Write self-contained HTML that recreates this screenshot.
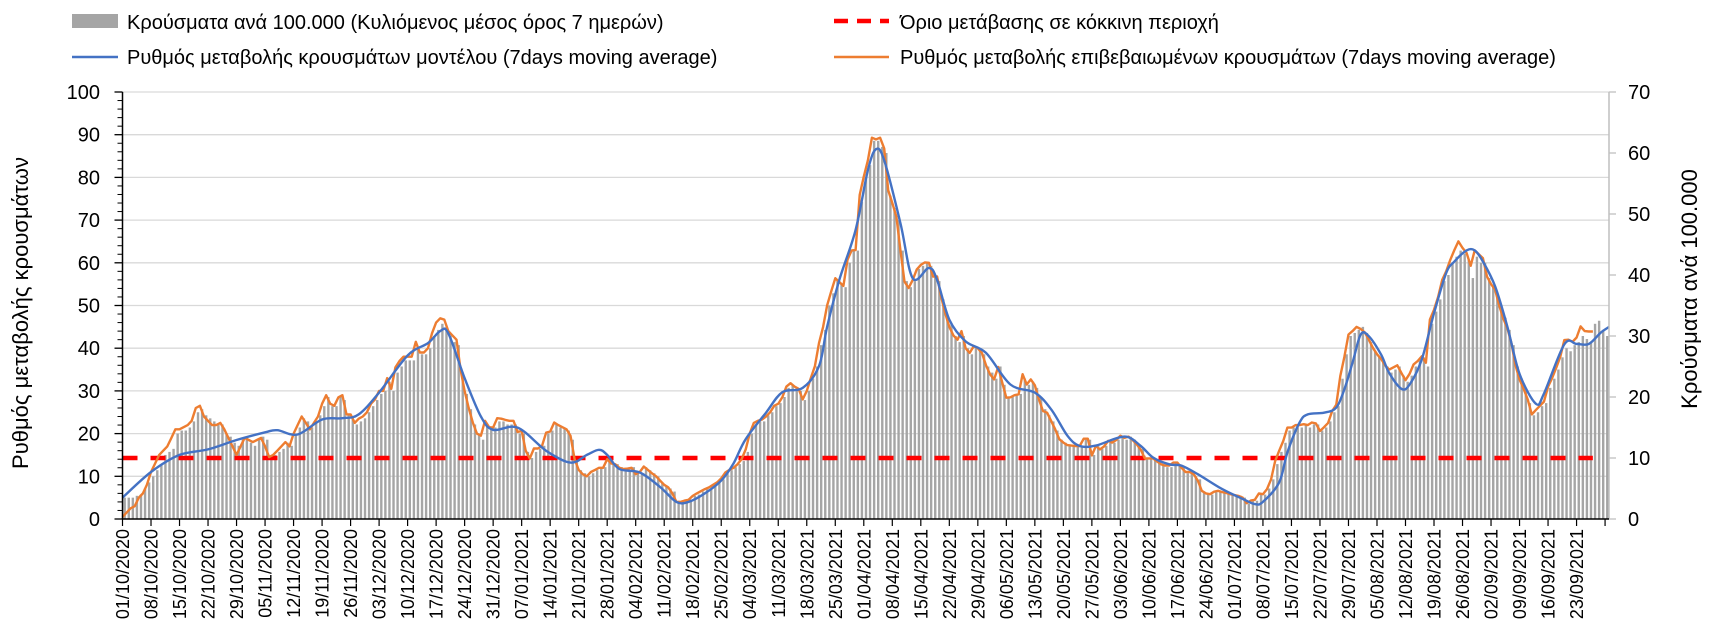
<!DOCTYPE html>
<html><head><meta charset="utf-8">
<style>
html,body{margin:0;padding:0;background:#fff;}
svg{display:block;font-family:"Liberation Sans","DejaVu Sans",sans-serif;}
</style></head>
<body>
<svg id="chart" width="1712" height="621" viewBox="0 0 1712 621">
  <rect x="0" y="0" width="1712" height="621" fill="#fff"/>
  <g>
    <g>
      <rect x="72" y="14" width="46" height="14" fill="#A5A5A5"/>
      <text x="127" y="29" font-size="20" fill="#000">Κρούσματα ανά 100.000 (Κυλιόμενος μέσος όρος 7 ημερών)</text>
    </g>
    <g>
      <line x1="834" y1="21" x2="889" y2="21" stroke="#FF0000" stroke-width="4.5" stroke-dasharray="14,9"/>
      <text x="900" y="29" font-size="20" fill="#000">Όριο μετάβασης σε κόκκινη περιοχή</text>
    </g>
    <g>
      <line x1="72" y1="57" x2="118" y2="57" stroke="#4472C4" stroke-width="2.5"/>
      <text x="127" y="64" font-size="20" fill="#000">Ρυθμός μεταβολής κρουσμάτων μοντέλου (7days moving average)</text>
    </g>
    <g>
      <line x1="834" y1="57" x2="889" y2="57" stroke="#ED7D31" stroke-width="2.5"/>
      <text x="900" y="64" font-size="20" fill="#000">Ρυθμός μεταβολής επιβεβαιωμένων κρουσμάτων (7days moving average)</text>
    </g>
  </g>
  <text transform="translate(28,313) rotate(-90)" text-anchor="middle" font-size="22" fill="#000">Ρυθμός μεταβολής κρουσμάτων</text>
  <text transform="translate(1697,289) rotate(-90)" text-anchor="middle" font-size="22" fill="#000">Κρούσματα ανά 100.000</text>
  <g id="grid"></g>
  <g id="bars"></g>
  <g id="thresh"></g>
  <g id="lines"></g>
  <g id="axes"></g>
</svg>
<script>
// ---- data ----
const startDate = [2020, 10, 1];
const leftTicks = [0,10,20,30,40,50,60,70,80,90,100];
const rightTicks = [0,10,20,30,40,50,60,70];
const thresholdRight = [10];
// bars: cases per 100k (right axis), daily from 01/10/2020
const casesPer100k = [
3.5,3.5,3.5,3.8,4,5,6,
7,8,9,10.5,11,11.5,14,
14.5,14.5,15,16,17.5,18,17,
16.5,16,15.5,15.5,14,13.5,12.5,
12,13,13.5,12.5,12,13,13.5,
13,10,10.5,11,11.5,12.5,12,
14,15,16.5,16,15,16,17,
18.5,20,18.5,18.5,20,19.5,17,
16.5,15.5,16,16.5,17.5,18.5,19.5,
20.5,21,22.5,21,24,25,26,
26,26,28,27,27,28,30,
31,32,31.5,30,29,28.5,24,
20.5,18,15.5,14,13,15.5,15,
15,16,16,15.5,15.5,15.5,14,
14,11,10,11,11.5,12,14,
14.5,15.5,15,15,14.5,13,10,
8,7.5,7,7.5,8,8.5,8.5,
9.5,9,9,8.5,8,8,8.5,
7.5,7.5,8.5,8,7.5,7,6,
5.5,5,4.5,3,3,3,3.2,
3.8,4,4.5,5,5,5.5,6,
6.5,7.5,8,8.5,9,9.5,11,
14,15.5,16,16,17,17.5,18.5,
19,20,21.5,22,21.5,21,19.5,
21,23,25,28.5,31,35,37,
39,38.5,38,42,44,44,52,
56,58,62,62,61,60,53,
51,49,44,39,38,39,41,
41.5,42,41.5,40,39,36,33,
32,30,29,30,28,27,28,
28,27,25,24,23,25,22,
20,20,20.5,20.5,23,22,22.5,
21.5,20,18,17,16,14.5,13,
12.5,12,12,12,12,13,13,
10.5,12,11.5,12,12.5,12.5,13,
13.5,13,13.5,13,12,11.5,10,
10,10,9.5,9,8.5,8.5,9,
9,8.5,7.5,7.5,7,6.5,4.5,
4.2,4,4.4,4.5,4.3,4.2,4,
4,3.8,3.5,2.5,3,3,4,
4,5,6.5,9,11,12.5,14.5,
15,15,15,15.5,15,15.5,15.5,
14.5,15,16,17.5,18.5,23,27,
30,30.5,31,31.5,30.5,29,27.5,
26.5,26,25,24,24.5,25,23.5,
22.5,23.5,25,26,26.5,25,32,
34,36,39,40,42,43,44,
43.5,42.5,39.5,43,42,42,39.5,
38,37,35,33,31,28.5,25,
23,21,19,17,17.5,18.5,19,
21.5,23,24.5,26.5,28,27.5,28.5,
29,30,29.5,29,32,32.5,31,
30];
// orange: confirmed cases rate (left axis), daily
const confirmedRate = [
0.5,1.5,2.5,3,5,6,8,
11,13,15,16,17,19,21,
21,21.5,22,23,26,26.5,24,
23,22,22,22.5,21,19,17,
15,17,19,18.5,18,18.5,19,
17,14.5,15,16,17,18,17,
20,22,24,22.5,21,22.5,24,
27,29,27,26.5,28.5,29,24.5,
24.5,22.5,23.5,24,25,27,28,
30,30,33,30.5,35.5,37,38,
38,38,41.5,39,39,40,43.5,
46,47,46.7,44,43,42,35,
30,26,22.6,20,19.5,23,21.5,
21.4,23.6,23.5,23.2,23,23,20.4,
20.6,16,14.2,16.5,16.5,17.1,20.2,
20.5,22.6,22,21.5,21,19.5,14,
11.5,10.5,10,11,11.5,12,12,
14,13,12.8,12,11.7,11.8,12,
10.5,11,12.3,11.5,10.7,10,9,
8,7.4,6,4,4,4.3,4.5,
5.4,6,6.5,7,7.4,8,8.6,
9.5,10.9,11.5,12,12.8,14,16.3,
20,22.5,23,23.3,24,25,26.5,
27,28.5,31,31.8,31,30.5,28,
30,33,35.8,41.2,45,50,53.3,
56.4,55.5,54.6,60.7,62.9,63,75.9,
80.2,84,89.3,88.9,89.3,86.8,77,
74,70.8,63,55.6,54.1,56,58.4,
59.5,60.1,60,56.8,56.8,52,48.2,
45,43,42,44,40,38.9,40.5,
40,38.9,36,33.9,32.7,35.6,31.9,
28.4,28.5,29,29.2,33.9,31.5,32.7,
31.3,28,25.3,24.9,23,21,18.7,
17.9,17.3,17.2,17.1,17.1,18.8,18.8,
14.9,17.1,16.3,17,18.3,17.9,18.5,
19.5,19,19.3,18.5,17.5,16.2,14.2,
14.2,14.2,13.5,12.8,12.5,12.5,13.2,
13.2,12,11,11,10.5,9,6.6,
6,5.8,6.4,6.6,6.3,6.1,5.8,
5.6,5.4,5,3.7,4.3,4.5,6,
5.8,7,9.3,13.6,16,18.3,21.4,
21.4,22,22,22.2,22,22.6,22.4,
20.6,21.5,22.5,25.3,26.8,33.5,38,
43.2,44,45,44.5,43.7,42,40.1,
38.6,37.5,36,35,35.5,36,34.2,
32.5,34,36.2,37,38.1,36.6,46.7,
49,52,56,58,60.7,63,65,
63.5,62.3,59.3,62.9,62,61.1,56.8,
55,53.7,50,47,44.7,41.2,36,
32.7,30.5,28,24.5,25.5,26.5,27.5,
31,33,35.4,38,41.9,42,41.5,
42.5,45.1,44,43.9,43.9];
// blue: model rate (left axis), read at day offsets
const modelDays = [0,7,14,21,28,35,38,43,49,54,58,63,70,75,78,80,84,88,91,97,104,110,114,117,119,122,127,132,136,139,143,147,150,153,158,162,167,171,173,176,180,183,185,187,191,194,198,200,203,207,212,218,224,228,232,235,239,246,250,253,257,260,264,270,275,278,280,284,286,289,291,295,298,300,302,304,306,309,311,314,316,319,322,325,327,330,332,334,337,340,343,347,349,354,357,360,363,365];
const modelRate = [5,11,15,16.3,18.5,20.3,20.8,19.8,23.3,23.6,24.5,29.6,38.3,41.2,44,43.5,33,24,20.9,21.4,16,13.2,15,16.2,15,11.7,10.9,7.5,4,4,6,9,13,18.7,24.9,29.7,30.7,35.8,45,56,67.7,81.7,86.6,84,69.3,56.4,58.8,56,46.7,41.6,38.9,31.5,29.6,25.7,19.5,17.1,17.2,19.3,17.1,14.4,12.8,12.5,10.5,7,4.7,3.5,4,8.6,15.6,22.6,24.5,24.9,26.1,30.4,36.6,43.2,42.8,38.5,34.2,30.5,31.5,37.4,48.2,57.6,60.3,62.9,62.9,60.3,54.5,45.1,34,27,29.4,40.9,41,41,43.7,45];

// ---- axes ----
const X0 = 122.5, PXD = 4.073, Y0 = 519, YTOP = 92;
const xDay = d => X0 + d * PXD;
const yL = v => Y0 - v / 100 * (Y0 - YTOP);
const yR = v => Y0 - v / 70 * (Y0 - YTOP);
const NS = 'http://www.w3.org/2000/svg';
function mk(tag, attrs, parent) {
  const e = document.createElementNS(NS, tag);
  for (const k in attrs) e.setAttribute(k, attrs[k]);
  parent.appendChild(e);
  return e;
}
const gGrid = document.getElementById('grid'), gBars = document.getElementById('bars'),
      gTh = document.getElementById('thresh'), gLines = document.getElementById('lines'),
      gAx = document.getElementById('axes');
const XR = 1609;

leftTicks.forEach(v => {
  if (v > 0) {
    const g = mk('line', {x1: X0, x2: XR, y1: yL(v), y2: yL(v), stroke: '#D9D9D9', 'stroke-width': 1.3}, gGrid);
    
    
  }
  const t = mk('text', {x: 100, y: yL(v) + 7, 'text-anchor': 'end', 'font-size': 20, fill: '#000'}, gAx);
  t.textContent = v;
  
  
  mk('line', {x1: X0 - 8, x2: X0, y1: yL(v), y2: yL(v), stroke: '#000', 'stroke-width': 1.3}, gAx);
});
for (let v = 2; v < 100; v += 2) {
  if (v % 10) mk('line', {x1: X0 - 5, x2: X0, y1: yL(v), y2: yL(v), stroke: '#000', 'stroke-width': 1}, gAx);
}
rightTicks.forEach(v => {
  const t = mk('text', {x: 1628, y: yR(v) + 7, 'font-size': 20, fill: '#000'}, gAx);
  t.textContent = v;
  
  
  mk('line', {x1: XR, x2: XR + 7, y1: yR(v), y2: yR(v), stroke: '#BFBFBF', 'stroke-width': 1.3}, gAx);
});

// bars
casesPer100k.forEach((v, d) => {
  const b = mk('rect', {x: xDay(d) + 1, y: yR(v), width: 2.4, height: Y0 - yR(v), fill: '#A5A5A5'}, gBars);
  
  
});

// threshold
const th = mk('line', {x1: xDay(0), x2: xDay(361), y1: yR(thresholdRight[0]), y2: yR(thresholdRight[0]), stroke: '#FF0000', 'stroke-width': 4.5, 'stroke-dasharray': '15,13'}, gTh);



// orange line
const op = confirmedRate.map((v, d) => xDay(d).toFixed(1) + ',' + yL(v).toFixed(1)).join(' ');
const ol = mk('polyline', {points: op, fill: 'none', stroke: '#ED7D31', 'stroke-width': 2.4, 'stroke-linejoin': 'round'}, gLines);



// blue smooth line (Catmull-Rom)
const pts = modelDays.map((d, i) => [xDay(d), yL(modelRate[i])]);
let dstr = 'M' + pts[0][0] + ',' + pts[0][1];
for (let i = 0; i < pts.length - 1; i++) {
  const p0 = pts[Math.max(0, i - 1)], p1 = pts[i], p2 = pts[i + 1], p3 = pts[Math.min(pts.length - 1, i + 2)];
  const c1x = p1[0] + (p2[0] - p0[0]) / 6, c1y = p1[1] + (p2[1] - p0[1]) / 6;
  const c2x = p2[0] - (p3[0] - p1[0]) / 6, c2y = p2[1] - (p3[1] - p1[1]) / 6;
  dstr += ' C' + c1x.toFixed(1) + ',' + c1y.toFixed(1) + ' ' + c2x.toFixed(1) + ',' + c2y.toFixed(1) + ' ' + p2[0].toFixed(1) + ',' + p2[1].toFixed(1);
}
const bl = mk('path', {d: dstr, fill: 'none', stroke: '#4472C4', 'stroke-width': 2.4}, gLines);



// axes lines
const axL = mk('line', {x1: X0, x2: X0, y1: YTOP, y2: Y0, stroke: '#000', 'stroke-width': 1.5}, gAx);


const axR = mk('line', {x1: XR, x2: XR, y1: YTOP, y2: Y0, stroke: '#BFBFBF', 'stroke-width': 1.5}, gAx);


const axX = mk('line', {x1: X0, x2: XR, y1: Y0, y2: Y0, stroke: '#000', 'stroke-width': 1.5}, gAx);



// date labels
const base = new Date(Date.UTC(startDate[0], startDate[1] - 1, startDate[2]));
const pad = n => (n < 10 ? '0' : '') + n;
for (let d = 0; d <= 364; d += 7) {
  const x = xDay(d);
  mk('line', {x1: x, x2: x, y1: Y0, y2: Y0 + 7, stroke: '#000', 'stroke-width': 1.2}, gAx);
  if (d > 357) continue;
  const dt = new Date(base.getTime() + d * 86400000);
  const lbl = pad(dt.getUTCDate()) + '/' + pad(dt.getUTCMonth() + 1) + '/' + dt.getUTCFullYear();
  const t = mk('text', {transform: 'translate(' + (x + 6.5).toFixed(1) + ',' + (Y0 + 10) + ') rotate(-90)', 'text-anchor': 'end', 'font-size': 18, fill: '#000'}, gAx);
  t.textContent = lbl;
  
  
}
</script>
</body></html>
